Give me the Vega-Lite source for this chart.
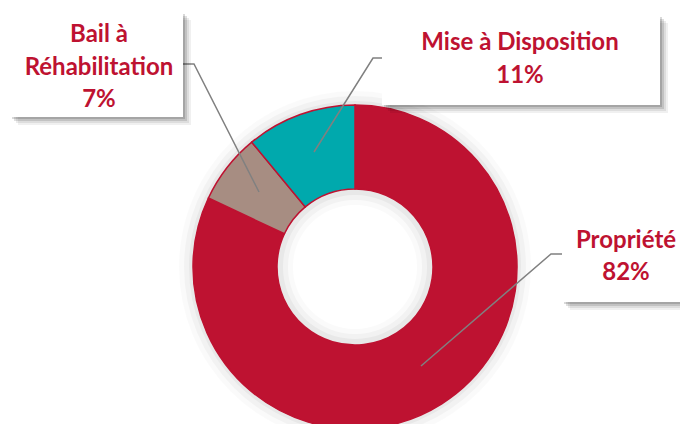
{
  "$schema": "https://vega.github.io/schema/vega-lite/v6.json",
  "width": 650,
  "height": 314,
  "autosize": "none",
  "padding": {"left": 30, "top": 110, "right": 0, "bottom": 0},
  "background": "white",
  "config": {"view": {"stroke": null}},
  "datasets": {
    "donut": [
      {"cat": "Propriété", "value": 82, "rank": 1},
      {"cat": "Bail à Réhabilitation", "value": 7, "rank": 2},
      {"cat": "Mise à Disposition", "value": 11, "rank": 3}
    ],
    "labels": [
      {"cat": "Bail à Réhabilitation", "text": "Bail à\nRéhabilitation\n7%", "tx": -256, "ty": -232, "x1": -345, "x2": -172, "y1": -255, "y2": -150},
      {"cat": "Mise à Disposition", "text": "Mise à Disposition\n11%", "tx": 165, "ty": -224, "x1": 27, "x2": 305, "y1": -252, "y2": -162},
      {"cat": "Propriété", "text": "Propriété\n82%", "tx": 271, "ty": -26.5, "x1": 207, "x2": 340, "y1": -60, "y2": 35}
    ],
    "leaders": [
      {"cat": "Bail à Réhabilitation", "seq": 1, "lx": -172, "ly": -203},
      {"cat": "Bail à Réhabilitation", "seq": 2, "lx": -161, "ly": -203},
      {"cat": "Bail à Réhabilitation", "seq": 3, "lx": -96, "ly": -75},
      {"cat": "Mise à Disposition", "seq": 1, "lx": 27, "ly": -209},
      {"cat": "Mise à Disposition", "seq": 2, "lx": 18, "ly": -209},
      {"cat": "Mise à Disposition", "seq": 3, "lx": -41, "ly": -115},
      {"cat": "Propriété", "seq": 1, "lx": 208, "ly": -13},
      {"cat": "Propriété", "seq": 2, "lx": 196, "ly": -13},
      {"cat": "Propriété", "seq": 3, "lx": 66, "ly": 99}
    ],
    "one": [{}]
  },
  "layer": [
    {"data": {"name": "one"}, "mark": {"type": "arc", "theta": 0, "theta2": 6.2832, "radius2": 160, "radius": 176, "fill": "black", "fillOpacity": 0.02}, "encoding": {}},
    {"data": {"name": "one"}, "mark": {"type": "arc", "theta": 0, "theta2": 6.2832, "radius2": 160, "radius": 171, "fill": "black", "fillOpacity": 0.03}, "encoding": {}},
    {"data": {"name": "one"}, "mark": {"type": "arc", "theta": 0, "theta2": 6.2832, "radius2": 160, "radius": 166, "fill": "black", "fillOpacity": 0.04}, "encoding": {}},
    {"data": {"name": "one"}, "mark": {"type": "arc", "theta": 0, "theta2": 6.2832, "radius2": 62, "radius": 80, "fill": "black", "fillOpacity": 0.02}, "encoding": {}},
    {"data": {"name": "one"}, "mark": {"type": "arc", "theta": 0, "theta2": 6.2832, "radius2": 67, "radius": 80, "fill": "black", "fillOpacity": 0.03}, "encoding": {}},
    {"data": {"name": "one"}, "mark": {"type": "arc", "theta": 0, "theta2": 6.2832, "radius2": 72, "radius": 80, "fill": "black", "fillOpacity": 0.04}, "encoding": {}},
    {
      "data": {"name": "donut"},
      "mark": {"type": "arc", "innerRadius": 78, "outerRadius": 162, "stroke": "#BE1231", "strokeWidth": 1.5},
      "encoding": {
        "theta": {"field": "value", "type": "quantitative", "stack": true},
        "order": {"field": "rank", "type": "quantitative"},
        "color": {"field": "cat", "type": "nominal", "legend": null,
          "scale": {"domain": ["Propriété", "Bail à Réhabilitation", "Mise à Disposition"], "range": ["#BE1231", "#A78D82", "#00A9AD"]}}
      }
    },
    {
      "data": {"name": "leaders"},
      "mark": {"type": "line", "stroke": "#808080", "strokeWidth": 1.5},
      "encoding": {
        "x": {"field": "lx", "type": "quantitative", "axis": null, "scale": {"domain": [-325, 325], "nice": false, "zero": false}},
        "y": {"field": "ly", "type": "quantitative", "axis": null, "scale": {"domain": [-157, 157], "nice": false, "zero": false, "reverse": true}},
        "detail": {"field": "cat"},
        "order": {"field": "seq", "type": "quantitative"}
      }
    },
    {
      "data": {"name": "labels"},
      "transform": [
        {"calculate": "datum.x1 + 8", "as": "sx1"},
        {"calculate": "datum.x2 + 8", "as": "sx2"},
        {"calculate": "datum.y1 + 8", "as": "sy1"},
        {"calculate": "datum.y2 + 8", "as": "sy2"}
      ],
      "mark": {"type": "rect", "fill": "black", "fillOpacity": 0.06},
      "encoding": {
        "x": {"field": "sx1", "type": "quantitative"},
        "x2": {"field": "sx2"},
        "y": {"field": "sy1", "type": "quantitative"},
        "y2": {"field": "sy2"}
      }
    },
    {
      "data": {"name": "labels"},
      "transform": [
        {"calculate": "datum.x1 + 6", "as": "sx1"},
        {"calculate": "datum.x2 + 6", "as": "sx2"},
        {"calculate": "datum.y1 + 6", "as": "sy1"},
        {"calculate": "datum.y2 + 6", "as": "sy2"}
      ],
      "mark": {"type": "rect", "fill": "black", "fillOpacity": 0.08},
      "encoding": {
        "x": {"field": "sx1", "type": "quantitative"},
        "x2": {"field": "sx2"},
        "y": {"field": "sy1", "type": "quantitative"},
        "y2": {"field": "sy2"}
      }
    },
    {
      "data": {"name": "labels"},
      "transform": [
        {"calculate": "datum.x1 + 4", "as": "sx1"},
        {"calculate": "datum.x2 + 4", "as": "sx2"},
        {"calculate": "datum.y1 + 4", "as": "sy1"},
        {"calculate": "datum.y2 + 4", "as": "sy2"}
      ],
      "mark": {"type": "rect", "fill": "black", "fillOpacity": 0.12},
      "encoding": {
        "x": {"field": "sx1", "type": "quantitative"},
        "x2": {"field": "sx2"},
        "y": {"field": "sy1", "type": "quantitative"},
        "y2": {"field": "sy2"}
      }
    },
    {
      "data": {"name": "labels"},
      "transform": [
        {"calculate": "datum.x1 + 2", "as": "sx1"},
        {"calculate": "datum.x2 + 2", "as": "sx2"},
        {"calculate": "datum.y1 + 2", "as": "sy1"},
        {"calculate": "datum.y2 + 2", "as": "sy2"}
      ],
      "mark": {"type": "rect", "fill": "black", "fillOpacity": 0.15},
      "encoding": {
        "x": {"field": "sx1", "type": "quantitative"},
        "x2": {"field": "sx2"},
        "y": {"field": "sy1", "type": "quantitative"},
        "y2": {"field": "sy2"}
      }
    },
    {
      "data": {"name": "labels"},
      "mark": {"type": "rect", "fill": "white"},
      "encoding": {
        "x": {"field": "x1", "type": "quantitative"},
        "x2": {"field": "x2"},
        "y": {"field": "y1", "type": "quantitative"},
        "y2": {"field": "y2"}
      }
    },
    {
      "data": {"name": "labels"},
      "mark": {"type": "text", "font": "Lato", "fontWeight": "bold", "fontSize": 24, "fill": "#BE1231", "align": "center", "baseline": "middle", "lineBreak": "\n", "lineHeight": 32.5},
      "encoding": {
        "x": {"field": "tx", "type": "quantitative"},
        "y": {"field": "ty", "type": "quantitative"},
        "text": {"field": "text"}
      }
    }
  ]
}
